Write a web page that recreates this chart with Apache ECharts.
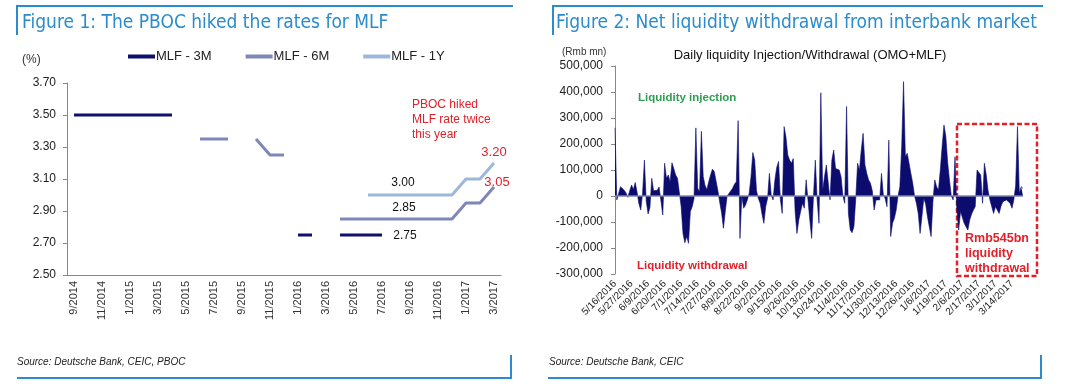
<!DOCTYPE html>
<html><head><meta charset="utf-8">
<script src="https://cdn.jsdelivr.net/npm/echarts@6/dist/echarts.min.js"></script>
<style>html,body{margin:0;padding:0;background:#fff}#c{width:1073px;height:390px}</style>
</head><body><div id="c"></div>
<script>
// ---- Figure 1 data ----
const months = ['9/2014','10/2014','11/2014','12/2014','1/2015','2/2015','3/2015','4/2015','5/2015','6/2015','7/2015','8/2015','9/2015','10/2015','11/2015','12/2015','1/2016','2/2016','3/2016','4/2016','5/2016','6/2016','7/2016','8/2016','9/2016','10/2016','11/2016','12/2016','1/2017','2/2017','3/2017'];
const mlf3m = [3.50,3.50,3.50,3.50,3.50,3.50,3.50,3.50,null,null,null,null,null,null,null,null,2.75,2.75,null,2.75,2.75,2.75,2.75,null,null,null,null,null,null,null,null];
const mlf6m = [null,null,null,null,null,null,null,null,null,3.35,3.35,3.35,null,3.35,3.25,3.25,null,null,null,2.85,2.85,2.85,2.85,2.85,2.85,2.85,2.85,2.85,2.95,2.95,3.05];
const mlf1y = [null,null,null,null,null,null,null,null,null,null,null,null,null,null,null,null,null,null,null,null,null,3.00,3.00,3.00,3.00,3.00,3.00,3.00,3.10,3.10,3.20];
const rateTicks = [2.5, 3.7, 0.2];

// ---- Figure 2 data (Rmb mn, daily) ----
const dayTickLabels = ['5/16/2016','5/27/2016','6/9/2016','6/20/2016','7/1/2016','7/14/2016','7/27/2016','8/9/2016','8/22/2016','9/2/2016','9/15/2016','9/26/2016','10/13/2016','10/24/2016','11/4/2016','11/17/2016','11/30/2016','12/13/2016','12/26/2016','1/6/2017','1/19/2017','2/6/2017','2/17/2017','3/1/2017','3/14/2017'];
const netLiquidity = [
262000,-15000,-10000,36000,30000,22000,12000,-5000,20000,42000,
25000,52000,15000,-30000,-54000,10000,138000,-20000,-69000,-45000,
68000,20000,17000,22000,35000,38000,-73000,126000,68000,81000,
55000,128000,105000,81000,68000,64000,-41000,-144000,-180000,-156000,
-182000,-60000,-41000,-10000,262000,30000,15000,249000,75000,40000,
25000,55000,81000,103000,94000,99000,20000,-25000,-65000,-124000,
-60000,0,10000,15000,30000,45000,55000,290000,-163000,0,
-47000,-35000,-15000,10000,74000,167000,138000,20000,-10000,-28000,
-70000,-105000,-41000,-10000,87000,5000,-15000,62000,110000,133000,
-15000,-67000,267000,228000,158000,138000,126000,144000,-60000,-144000,
-92000,-60000,-28000,-47000,62000,-15000,-92000,-163000,0,138000,
-15000,-105000,397000,23000,74000,119000,113000,-15000,138000,177000,
106000,110000,100000,74000,0,-28000,344000,-67000,-131000,-141000,
-118000,-10000,126000,100000,177000,241000,120000,87000,62000,49000,
20000,-54000,-15000,-10000,-15000,87000,5000,-10000,-41000,215000,
-156000,-105000,-86000,-54000,0,36000,190000,440000,151000,164000,
126000,87000,49000,0,-28000,-67000,-144000,-79000,-10000,-30000,
-79000,-118000,-156000,-20000,62000,36000,23000,100000,190000,273000,
230000,130000,60000,0,-15000,151000,-54000,-131000,-60000,-54000,
-105000,-118000,-131000,-92000,-70000,-54000,-41000,100000,100000,81000,
-28000,126000,81000,20000,-15000,-41000,-67000,-41000,-54000,-67000,
-40000,-22000,-28000,-15000,-22000,-28000,-47000,-15000,40000,267000,
10000,36000,29000];
const liqTicks = [-300000, 500000, 100000];
const labelEvery = 9;
const dayCats = netLiquidity.map((v, i) => {
  const k = Math.floor(i / labelEvery), j = i % labelEvery;
  return j === 0 && k < dayTickLabels.length ? dayTickLabels[k] : (dayTickLabels[Math.min(k, dayTickLabels.length-1)] + ' +' + j);
});

const FONT = "'Liberation Sans', Arial, sans-serif";
const TFONT = "'DejaVu Sans Condensed', 'Liberation Sans', sans-serif";
const BLUE = '#2a8ccd';
const RED = '#e3202a';
const NAVY = '#0c0c6e';
const C3M = '#10106e', C6M = '#7f87b9', C1Y = '#9db8da';

function blueLine(x1,y1,x2,y2){return {type:'line',shape:{x1,y1,x2,y2},style:{stroke:BLUE,lineWidth:2},silent:true};}
function txt(x,y,text,opt){return Object.assign({type:'text',silent:true,style:Object.assign({x,y,text,fill:'#222',font:'12px '+FONT,align:'left',verticalAlign:'middle'},opt||{})});}
function mp(coord, text, offset, color, size){
  return {coord, symbol:'circle', symbolSize:0, label:{show:true, formatter:text, offset, color, fontSize:size, fontFamily:FONT}};
}

const chart = echarts.init(document.getElementById('c'), null, {renderer:'canvas'});
chart.setOption({
  animation:false,
  textStyle:{fontFamily:FONT},
  legend:{
    data:['MLF - 3M','MLF - 6M','MLF - 1Y'],
    left:128, top:50, padding:0, icon:'rect', itemWidth:27, itemHeight:4, itemGap:34,
    textStyle:{fontSize:13, color:'#222', fontFamily:FONT, padding:[0,0,0,-4]}
  },
  grid:[
    {left:67, top:83, width:434, height:192},
    {left:615, top:66, width:408, height:208}
  ],
  xAxis:[
    {type:'category', gridIndex:0, data:months, boundaryGap:true,
     axisLine:{lineStyle:{color:'#888', width:1}},
     axisTick:{interval:1, inside:true, length:3, lineStyle:{color:'#888'}},
     axisLabel:{interval:1, rotate:90, fontSize:11, color:'#333', margin:6, fontFamily:FONT},
     splitLine:{show:false}},
    {type:'category', gridIndex:1, data:dayCats, boundaryGap:false,
     axisLine:{show:false, onZero:false}, axisTick:{show:false},
     axisLabel:{interval:labelEvery-1, rotate:45, fontSize:10, color:'#222', margin:8, fontFamily:FONT,
       formatter:(v,i)=> (i % labelEvery === 0 ? dayTickLabels[i/labelEvery] : '')},
     splitLine:{show:false}}
  ],
  yAxis:[
    {type:'value', gridIndex:0, min:rateTicks[0], max:rateTicks[1], interval:rateTicks[2],
     axisLine:{show:true, lineStyle:{color:'#888'}},
     axisTick:{show:true, length:4, lineStyle:{color:'#888'}},
     axisLabel:{formatter:v=>v.toFixed(2), fontSize:12, color:'#222', margin:11, fontFamily:FONT},
     splitLine:{show:false}},
    {type:'value', gridIndex:1, min:liqTicks[0], max:liqTicks[1], interval:liqTicks[2],
     axisLine:{show:true, lineStyle:{color:'#888'}},
     axisTick:{show:true, length:4, lineStyle:{color:'#888'}},
     axisLabel:{formatter:v=>v.toLocaleString('en-US'), fontSize:12, color:'#222', margin:12, fontFamily:FONT},
     splitLine:{show:false}}
  ],
  series:[
    {name:'MLF - 3M', type:'line', xAxisIndex:0, yAxisIndex:0, data:mlf3m, symbol:'none', connectNulls:false,
     lineStyle:{width:3, color:C3M}, itemStyle:{color:C3M},
     markPoint:{data:[mp([months[24],2.75],'2.75',[-5,1],'#111',12)]}},
    {name:'MLF - 6M', type:'line', xAxisIndex:0, yAxisIndex:0, data:mlf6m, symbol:'none', connectNulls:false,
     lineStyle:{width:3, color:C6M}, itemStyle:{color:C6M},
     markPoint:{data:[mp([months[24],2.85],'2.85',[-6,-11],'#111',12), mp([months[30],3.05],'3.05',[3,-5],RED,13)]}},
    {name:'MLF - 1Y', type:'line', xAxisIndex:0, yAxisIndex:0, data:mlf1y, symbol:'none', connectNulls:false,
     lineStyle:{width:3, color:C1Y}, itemStyle:{color:C1Y},
     markPoint:{data:[mp([months[24],3.00],'3.00',[-7,-12],'#111',12), mp([months[30],3.20],'3.20',[0,-11],RED,13)]}},
    {name:'Net liquidity', type:'line', xAxisIndex:1, yAxisIndex:1, data:netLiquidity, symbol:'none',
     lineStyle:{width:0.6, color:NAVY}, areaStyle:{color:NAVY, opacity:1}, itemStyle:{color:NAVY},
     markLine:{silent:true, symbol:'none', label:{show:false}, lineStyle:{color:'#7d84ac', width:1.5, type:'solid'}, data:[{yAxis:0}]}}
  ],
  graphic:[
    blueLine(17,6,513,6), blueLine(17,5,17,35),
    blueLine(553,6,1043,6), blueLine(553,5,553,35),
    blueLine(17,378,512,378), blueLine(511,355,511,379),
    blueLine(548,378,1042,378), blueLine(1041,355,1041,379),
    txt(22,23,'Figure 1: The PBOC hiked the rates for MLF',{fill:BLUE, font:'19px '+TFONT}),
    txt(556,23,'Figure 2: Net liquidity withdrawal from interbank market',{fill:BLUE, font:'19px '+TFONT}),
    txt(22,60,'(%)',{fill:'#333', font:'12px '+FONT}),
    txt(412,97,'PBOC hiked\nMLF rate twice\nthis year',{fill:RED, font:'12px '+FONT, verticalAlign:'top', lineHeight:15}),
    txt(17,362,'Source: Deutsche Bank, CEIC, PBOC',{fill:'#222', font:'italic 10px '+FONT}),
    txt(549,362,'Source: Deutsche Bank, CEIC',{fill:'#222', font:'italic 10px '+FONT}),
    txt(562,52,'(Rmb mn)',{fill:'#333', font:'10px '+FONT}),
    txt(810,55,'Daily liquidity Injection/Withdrawal (OMO+MLF)',{fill:'#111', font:'13px '+FONT, align:'center'}),
    txt(638,98,'Liquidity injection',{fill:'#2e9e4f', font:'bold 11.5px '+FONT}),
    txt(637,266,'Liquidity withdrawal',{fill:RED, font:'bold 11.5px '+FONT}),
    {type:'rect', silent:true, shape:{x:957,y:124,width:80,height:152}, style:{fill:'none', stroke:RED, lineWidth:2.5, lineDash:[5,2.5]}},
    txt(965,231,'Rmb545bn\nliquidity\nwithdrawal',{fill:RED, font:'bold 12.5px '+FONT, verticalAlign:'top', lineHeight:15})
  ]
});
</script></body></html>
